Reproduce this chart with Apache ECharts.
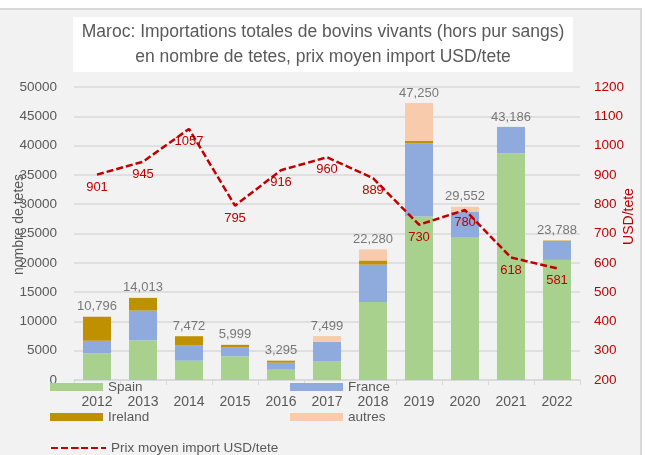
<!DOCTYPE html>
<html>
<head>
<meta charset="utf-8">
<script src="https://cdn.jsdelivr.net/npm/echarts@6/dist/echarts.min.js"></script>
<style>
  html, body { margin: 0; padding: 0; background: #fff; }
  #chart { width: 645px; height: 455px; }
</style>
</head>
<body>
<div id="chart"></div>
<script>
var years = ["2012", "2013", "2014", "2015", "2016", "2017", "2018", "2019", "2020", "2021", "2022"];
var spain = [4550, 6750, 3300, 4050, 1760, 3150, 13300, 27900, 24300, 38700, 20500];
var france = [2150, 5100, 2650, 1500, 1200, 3400, 6400, 12500, 4450, 4486, 3100];
var ireland = [4096, 2163, 1522, 449, 335, 0, 700, 400, 0, 0, 188];
var autres = [0, 0, 0, 0, 0, 949, 1880, 6450, 802, 0, 0];
var totals = [10796, 14013, 7472, 5999, 3295, 7499, 22280, 47250, 29552, 43186, 23788];
var prix = [901, 945, 1057, 795, 916, 960, 889, 730, 780, 618, 581];

var font = "Liberation Sans";
var gray = "#595959";
var red = "#c00000";

var chart = echarts.init(document.getElementById("chart"));

function barSeries(name, data, color) {
  return {
    name: name,
    type: "bar",
    stack: "tetes",
    barWidth: 28,
    data: data,
    itemStyle: { color: color },
    silent: true
  };
}

function legendItem(name, left, top, width, height) {
  return {
    data: [name],
    left: left,
    top: top,
    itemWidth: width,
    itemHeight: height,
    icon: height > 4 ? "rect" : undefined,
    selectedMode: false,
    padding: 0,
    textStyle: { color: gray, fontSize: 13.5, fontFamily: font }
  };
}

function plain(v) {
  return String(v);
}

var option = {
  backgroundColor: "#fff",
  animation: false,
  graphic: [
    {
      type: "rect",
      z: -10,
      shape: { x: -3, y: 9, width: 644, height: 460 },
      style: { fill: "#f2f2f2", stroke: "#d9d9d9", lineWidth: 2 }
    },
    {
      type: "rect",
      z: -9,
      shape: { x: 73, y: 17, width: 500, height: 55 },
      style: { fill: "#ffffff" }
    },
    {
      type: "text",
      z: 10,
      x: 323,
      y: 20,
      style: {
        text: "Maroc: Importations totales de bovins vivants (hors pur sangs)\nen nombre de tetes, prix moyen import USD/tete",
        align: "center",
        fill: gray,
        fontSize: 17.5,
        fontFamily: font,
        lineHeight: 25
      }
    }
  ],
  legend: [
    legendItem("Spain", 50, 380, 53, 8),
    legendItem("France", 290, 380, 53, 8),
    legendItem("Ireland", 50, 410, 53, 8),
    legendItem("autres", 290, 410, 53, 8),
    legendItem("Prix moyen import USD/tete", 50, 441, 55, 2)
  ],
  grid: { left: 74, right: 65, top: 87, bottom: 75, outerBoundsMode: "none", containLabel: false },
  xAxis: {
    type: "category",
    data: years,
    axisLine: { lineStyle: { color: "#d9d9d9", width: 1.5 } },
    axisTick: { show: true, length: 5, lineStyle: { color: "#d9d9d9" } },
    axisLabel: { color: gray, fontSize: 14, fontFamily: font, margin: 15 }
  },
  yAxis: [
    {
      type: "value",
      min: 0,
      max: 50000,
      interval: 5000,
      name: "nombre de tetes",
      nameLocation: "middle",
      nameGap: 48,
      nameMoveOverlap: false,
      nameTextStyle: { color: gray, fontSize: 14, fontFamily: font, padding: [0, 0, 0, 18] },
      axisLine: { show: false },
      axisTick: { show: false },
      axisLabel: { color: gray, fontSize: 13.5, fontFamily: font, margin: 17, formatter: plain },
      splitLine: { lineStyle: { color: "#d9d9d9", width: 1.5 } }
    },
    {
      type: "value",
      min: 200,
      max: 1200,
      interval: 100,
      name: "USD/tete",
      nameLocation: "middle",
      nameGap: 42,
      nameMoveOverlap: false,
      nameTextStyle: { color: red, fontSize: 14, fontFamily: font, padding: [0, 0, 0, 34] },
      axisLine: { show: false },
      axisTick: { show: false },
      axisLabel: { color: red, fontSize: 13.5, fontFamily: font, margin: 14, formatter: plain },
      splitLine: { show: false }
    }
  ],
  series: [
    barSeries("Spain", spain, "#a9d18e"),
    barSeries("France", france, "#8faadc"),
    barSeries("Ireland", ireland, "#bf9000"),
    barSeries("autres", autres, "#f8cbad"),
    {
      name: "total",
      type: "scatter",
      data: totals,
      symbolSize: 1,
      itemStyle: { color: "rgba(0,0,0,0)" },
      silent: true,
      label: {
        show: true,
        position: "top",
        distance: 3,
        color: gray,
        fontSize: 13,
        fontFamily: font,
        formatter: function (p) {
          return p.value.toLocaleString("en-US");
        }
      }
    },
    {
      name: "Prix moyen import USD/tete",
      type: "line",
      yAxisIndex: 1,
      data: prix,
      symbol: "circle",
      symbolSize: 0,
      showAllSymbol: true,
      z: 5,
      silent: true,
      lineStyle: { color: red, width: 2.5, type: [7, 3] },
      itemStyle: { color: red },
      label: {
        show: true,
        position: "bottom",
        distance: 6,
        color: red,
        fontSize: 13,
        fontFamily: font
      }
    }
  ]
};

chart.setOption(option);
</script>
</body>
</html>
